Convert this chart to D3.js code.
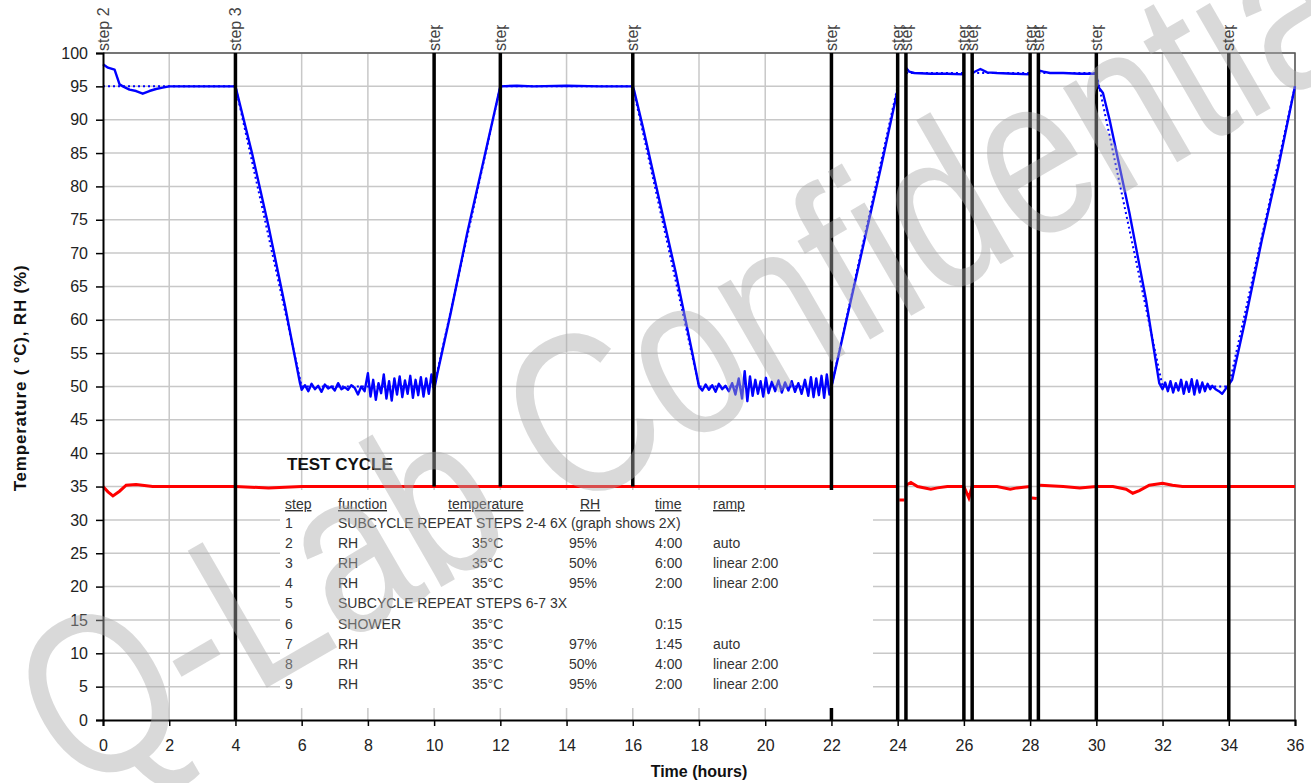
<!DOCTYPE html>
<html>
<head>
<meta charset="utf-8">
<script src="https://cdn.jsdelivr.net/npm/d3@7"></script>
<style>
  body { margin: 0; background: #fff; }
  text { font-family: "Liberation Sans", Arial, sans-serif; }
</style>
</head>
<body>
<div id="chart"></div>
<script>
// ---- data ----
var xTicks = [0, 2, 4, 6, 8, 10, 12, 14, 16, 18, 20, 22, 24, 26, 28, 30, 32, 34, 36];
var yTicks = [0, 5, 10, 15, 20, 25, 30, 35, 40, 45, 50, 55, 60, 65, 70, 75, 80, 85, 90, 95, 100];

// step boundaries (hours), their labels and the value where each marker line stops
var stepTimes  = [0, 4, 10, 12, 16, 22, 24, 24.25, 26, 26.25, 28, 28.25, 30, 34];
var stepLabels = ["step 2", "step 3", "step 4", "step 2", "step 3", "step 4", "step 6", "step 7",
                  "step 6", "step 7", "step 6", "step 7", "step 8", "step 9"];
var stepBottom = [0, 0, 35, 35, 35, 0, 0, 0, 0, 0, 0, 0, 0, 0];

// RH measured [hours, %], null = gap (shower)
var rhMeasured = [
  [0, 98.3], [0.15, 97.8], [0.35, 97.5], [0.5, 95.3], [0.6, 95], [0.8, 94.5], [1.0, 94.3], [1.2, 93.9],
  [1.4, 94.3], [1.6, 94.6], [1.8, 94.8], [2.0, 95], [2.5, 95], [3, 95], [3.5, 95], [4, 95],
  [4.05, 94], [4.2, 91], [4.5, 85], [5, 74], [5.5, 62], [5.95, 50.5],
  [6.0, 49.5], [6.1, 50.2], [6.2, 49.3], [6.3, 50.4], [6.4, 49.6], [6.5, 50.1], [6.6, 49.2], [6.7, 50.3],
  [6.8, 49.7], [6.9, 50.0], [7.0, 49.4], [7.1, 50.5], [7.2, 49.6], [7.3, 49.9], [7.4, 49.5], [7.5, 50.2],
  [7.6, 49.8], [7.7, 48.8], [7.8, 50.0], [7.9, 49.3],
  [8.0, 52], [8.08, 48.5], [8.16, 51], [8.24, 48], [8.32, 50.5], [8.4, 49], [8.48, 51.8], [8.56, 48.2],
  [8.64, 50.8], [8.72, 47.9], [8.8, 51.2], [8.88, 48.8], [8.96, 51.5], [9.04, 48.4], [9.12, 50.9],
  [9.2, 48.9], [9.28, 51.6], [9.36, 48.3], [9.44, 51], [9.52, 48.7], [9.6, 51.4], [9.68, 48.5],
  [9.76, 51.2], [9.84, 48.9], [9.92, 51.8], [10, 49.5],
  [10.1, 52], [10.5, 61], [11, 73], [11.5, 84], [12, 95],
  [12.5, 95.1], [13, 95], [14, 95.1], [15, 95], [16, 95],
  [16.05, 94.2], [16.3, 89], [16.8, 78], [17.3, 67], [17.8, 55], [18, 50],
  [18.1, 49.4], [18.2, 50.3], [18.3, 49.5], [18.4, 50.2], [18.5, 49.2], [18.6, 50.4], [18.7, 49.6],
  [18.8, 50.1], [18.9, 49.3], [19.0, 50.5], [19.1, 48.8], [19.2, 51.2], [19.3, 48.2], [19.38, 52.3],
  [19.46, 47.8], [19.54, 51.5], [19.62, 48.6], [19.7, 51], [19.78, 48.9], [19.86, 50.8], [19.94, 48.5],
  [20.02, 51.3], [20.1, 49], [20.2, 50.7], [20.3, 49.3], [20.4, 50.9], [20.5, 49.1], [20.6, 50.6],
  [20.7, 49.4], [20.8, 50.8], [20.9, 49.2], [21.0, 50.5], [21.1, 48.9], [21.2, 51], [21.3, 48.6],
  [21.38, 51.4], [21.46, 48.4], [21.54, 51.2], [21.62, 48.7], [21.7, 51.6], [21.78, 48.3], [21.86, 51.8],
  [21.94, 48.8], [22, 50],
  [22.05, 51], [22.5, 61], [23, 72], [23.5, 83], [24, 94.5],
  null,
  [24.25, 97.8], [24.35, 97.2], [24.5, 97], [25, 96.9], [25.5, 96.9], [26, 96.8],
  null,
  [26.25, 97], [26.5, 97.6], [26.7, 97.1], [27, 97], [27.5, 96.9], [28, 96.8],
  null,
  [28.25, 97.4], [28.4, 97.2], [28.6, 97], [29, 97], [29.5, 96.9], [30, 96.9],
  [30.05, 95], [30.2, 94], [30.4, 90], [31, 76], [31.5, 63], [31.9, 50.5],
  [32.0, 49.6], [32.08, 50.6], [32.16, 49.3], [32.24, 50.8], [32.32, 49.1], [32.4, 50.5], [32.48, 49.4],
  [32.56, 51], [32.64, 48.9], [32.72, 50.7], [32.8, 49.2], [32.88, 51.1], [32.96, 48.8], [33.04, 50.9],
  [33.12, 49.1], [33.2, 50.6], [33.28, 49.3], [33.36, 50.4], [33.44, 49.6], [33.5, 50.1], [33.6, 49.6],
  [33.7, 49.3], [33.8, 48.9], [33.9, 49.6], [34, 50.3],
  [34.1, 51], [34.5, 60], [35, 72], [35.5, 83], [36, 95]
];

// RH setpoint [hours, %]
var rhSetpoint = [
  [0, 95], [4, 95], [6, 50], [10, 50], [12, 95], [16, 95], [18, 50], [22, 50], [24, 95],
  null, [24.25, 97], [26, 97], null, [26.25, 97], [28, 97], null, [28.25, 97], [30, 97],
  [32, 50], [34, 50], [36, 95]
];

// temperature [hours, °C]
var tempMeasured = [
  [0, 35], [0.15, 34.2], [0.3, 33.6], [0.5, 34.3], [0.7, 35.2], [1, 35.3], [1.5, 35], [4, 35],
  [5, 34.8], [6, 35], [8, 35], [10, 35], [12, 35], [14, 35], [16, 35], [18, 35], [20, 35], [22, 35], [24, 35],
  null, [24.05, 33], [24.2, 33], null,
  [24.25, 35.2], [24.4, 35.6], [24.6, 35], [25, 34.6], [25.2, 34.8], [25.5, 35], [26, 35],
  [26.15, 33.3], [26.25, 35], [27, 35], [27.4, 34.6], [27.6, 34.8], [28, 35],
  null, [28.05, 33.3], [28.2, 33.2], null,
  [28.3, 35.2], [29, 35], [29.5, 34.8], [30, 35], [30.5, 35], [30.9, 34.6], [31.1, 34], [31.3, 34.4],
  [31.6, 35.2], [32, 35.5], [32.3, 35.2], [32.6, 35], [33, 35], [34, 35], [36, 35]
];

// test cycle table
var tableHeaders = ["step", "function", "temperature", "RH", "time", "ramp"];
var tableRows = [
  ["1", "SUBCYCLE REPEAT STEPS 2-4 6X (graph shows 2X)", "", "", "", ""],
  ["2", "RH", "35°C", "95%", "4:00", "auto"],
  ["3", "RH", "35°C", "50%", "6:00", "linear 2:00"],
  ["4", "RH", "35°C", "95%", "2:00", "linear 2:00"],
  ["5", "SUBCYCLE REPEAT STEPS 6-7 3X", "", "", "", ""],
  ["6", "SHOWER", "35°C", "", "0:15", ""],
  ["7", "RH", "35°C", "97%", "1:45", "auto"],
  ["8", "RH", "35°C", "50%", "4:00", "linear 2:00"],
  ["9", "RH", "35°C", "95%", "2:00", "linear 2:00"]
];

// ---- layout ----
var width = 1311, height = 783;
var margin = {top: 53, right: 16, bottom: 63, left: 103};
var chartWidth = width - margin.left - margin.right;
var chartHeight = height - margin.top - margin.bottom;

var svg = d3.select("#chart").append("svg")
    .attr("width", width)
    .attr("height", height);

var defs = svg.append("defs");
defs.append("clipPath").attr("id", "labelclip")
  .append("rect").attr("x", 0).attr("y", 25).attr("width", width).attr("height", 28);

var xScale = d3.scaleLinear().domain([0, 36]).range([0, chartWidth]);
var yScale = d3.scaleLinear().domain([0, 100]).range([chartHeight, 0]);

var viz = svg.append("g")
    .attr("transform", "translate(" + margin.left + "," + margin.top + ")");

// gridlines
viz.append("g").selectAll("line")
  .data(xTicks.slice(1))
  .enter().append("line")
    .attr("x1", function (d) { return xScale(d); })
    .attr("x2", function (d) { return xScale(d); })
    .attr("y1", 0).attr("y2", chartHeight)
    .attr("stroke", "#c8c8c8").attr("stroke-width", 1.5);
viz.append("g").selectAll("line")
  .data(yTicks.slice(1))
  .enter().append("line")
    .attr("x1", 0).attr("x2", chartWidth)
    .attr("y1", function (d) { return yScale(d); })
    .attr("y2", function (d) { return yScale(d); })
    .attr("stroke", "#c8c8c8").attr("stroke-width", 1.5);

// frame (top + right)
viz.append("path")
    .attr("d", "M0,0H" + chartWidth + "V" + chartHeight)
    .attr("fill", "none").attr("stroke", "#555").attr("stroke-width", 1.5);

// table box & text
var boxX = 280 - margin.left, boxY = 490 - margin.top, boxW = 873 - 280, boxH = 708 - 490;
var box = viz.append("g");
box.append("rect")
    .attr("x", boxX).attr("y", boxY)
    .attr("width", boxW).attr("height", boxH)
    .attr("fill", "#fff");

viz.append("text")
    .attr("x", 287 - margin.left).attr("y", 470 - margin.top)
    .attr("font-size", 17).attr("font-weight", "bold").attr("fill", "#111")
    .text("TEST CYCLE");

var colX = [285, 338, 448, 580, 655, 713];
var valX = [285, 338, 472, 569, 655, 713];
box.selectAll("text.hdr")
  .data(tableHeaders)
  .enter().append("text")
    .attr("x", function (d, i) { return colX[i] - margin.left; })
    .attr("y", 509 - margin.top)
    .attr("font-size", 14).attr("fill", "#333")
    .attr("text-decoration", "underline")
    .text(function (d) { return d; });

tableRows.forEach(function (row, r) {
  box.selectAll("text.r" + r)
    .data(row)
    .enter().append("text")
      .attr("x", function (d, i) { return valX[i] - margin.left; })
      .attr("y", 528 + r * 20.1 - margin.top)
      .attr("font-size", 14).attr("fill", "#333")
      .text(function (d) { return d; });
});

// watermark
svg.append("text")
    .attr("transform", "translate(741,414) rotate(-30) scale(0.8,1)")
    .attr("text-anchor", "middle")
    .attr("font-size", 230)
    .attr("fill", "#aaa").attr("fill-opacity", 0.45)
    .text("Q-Lab Confidential");

// data lines
var line = d3.line()
    .defined(function (d) { return d !== null; })
    .x(function (d) { return xScale(d[0]); })
    .y(function (d) { return yScale(d[1]); });

viz.append("path").datum(tempMeasured)
    .attr("d", line).attr("fill", "none")
    .attr("stroke", "#ff0000").attr("stroke-width", 3);
viz.append("path").datum(rhSetpoint)
    .attr("d", line).attr("fill", "none")
    .attr("stroke", "#0000ff").attr("stroke-width", 2)
    .attr("stroke-dasharray", "2,3");
viz.append("path").datum(rhMeasured)
    .attr("d", line).attr("fill", "none")
    .attr("stroke", "#0000ff").attr("stroke-width", 2.4)
    .attr("stroke-linejoin", "round");

// step lines
viz.append("g").selectAll("line")
  .data(stepTimes.slice(1))
  .enter().append("line")
    .attr("x1", function (d) { return xScale(d); })
    .attr("x2", function (d) { return xScale(d); })
    .attr("y1", 0)
    .attr("y2", function (d, i) { return yScale(stepBottom[i + 1]); })
    .attr("stroke", "#000").attr("stroke-width", 3.5);

// table box re-covers the step line at 22
viz.append("rect")
    .attr("x", xScale(22) - 3).attr("y", boxY)
    .attr("width", 6).attr("height", boxH)
    .attr("fill", "#fff");

// step labels (the later ones are cut short at the top, as in the source)
var labels = svg.append("g");
labels.selectAll("g")
  .data(stepTimes)
  .enter().append("g")
    .attr("clip-path", function (d, i) { return i < 2 ? null : "url(#labelclip)"; })
  .append("text")
    .attr("transform", function (d) { return "translate(" + (margin.left + xScale(d)) + ",51) rotate(-90)"; })
    .attr("dy", "0.35em")
    .attr("font-size", 16).attr("fill", "#444")
    .text(function (d, i) { return stepLabels[i]; });

// axes
var yAxis = d3.axisLeft(yScale).tickValues(yTicks).tickSize(7).tickPadding(8);
var xAxis = d3.axisBottom(xScale).tickValues(xTicks).tickSize(6).tickPadding(14);

function customYAxis(g) {
  g.call(yAxis);
  g.select(".domain").attr("stroke", "#000").attr("stroke-width", 2);
  g.selectAll(".tick line").attr("stroke", "#000").attr("stroke-width", 1.5);
  g.selectAll(".tick text").attr("font-size", 16).attr("fill", "#222")
    .style("font-family", "'Liberation Sans', Arial, sans-serif");
}
function customXAxis(g) {
  g.call(xAxis);
  g.select(".domain").attr("stroke", "#000").attr("stroke-width", 2);
  g.selectAll(".tick line").attr("stroke", "#000").attr("stroke-width", 1.5);
  g.selectAll(".tick text").attr("font-size", 16).attr("fill", "#222")
    .style("font-family", "'Liberation Sans', Arial, sans-serif");
}

viz.append("g").call(customYAxis);
viz.append("g").attr("transform", "translate(0," + chartHeight + ")").call(customXAxis);

// axis titles
svg.append("text")
    .attr("x", margin.left + chartWidth / 2).attr("y", 777)
    .attr("text-anchor", "middle")
    .attr("font-size", 16).attr("font-weight", "bold").attr("fill", "#111")
    .text("Time (hours)");
svg.append("text")
    .attr("transform", "translate(26,378) rotate(-90)")
    .attr("text-anchor", "middle")
    .attr("font-size", 17).attr("font-weight", "bold").attr("fill", "#111")
    .attr("letter-spacing", 0.8)
    .text("Temperature ( °C), RH (%)");
</script>
</body>
</html>
